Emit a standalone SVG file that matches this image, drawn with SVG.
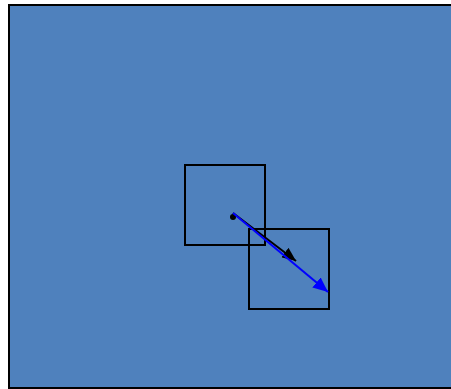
<svg xmlns="http://www.w3.org/2000/svg" width="451" height="389" viewBox="0 0 451 389">
<style>
.sq{fill:none;stroke:#000;stroke-width:2}
</style>
<defs>
<marker id="ab" markerWidth="14" markerHeight="12" refX="14" refY="6" orient="auto" markerUnits="userSpaceOnUse" viewBox="0 0 14 12"><path d="M0,0 L14,6 L0,12 Z" fill="#000"/></marker>
<marker id="au" markerWidth="15" markerHeight="13" refX="15" refY="6.5" orient="auto" markerUnits="userSpaceOnUse" viewBox="0 0 15 13"><path d="M0,0 L15,6.5 L0,13 Z" fill="#0000ff"/></marker>
</defs>
<rect x="9" y="5" width="445" height="383" fill="#4f81bd" stroke="#000" stroke-width="2"/>
<g id="box1"><rect class="sq" x="185" y="165" width="80" height="80"/></g>
<g id="box2"><rect class="sq" x="249" y="229" width="80" height="80"/></g>
<g id="connectors">
<circle cx="233" cy="217" r="3" fill="#000"/>
<line x1="233" y1="213" x2="296" y2="261" stroke="#000" stroke-width="2" marker-end="url(#ab)"/>
<line x1="233" y1="213" x2="328" y2="292" stroke="#0000ff" stroke-width="2" marker-end="url(#au)"/>
</g>
</svg>
